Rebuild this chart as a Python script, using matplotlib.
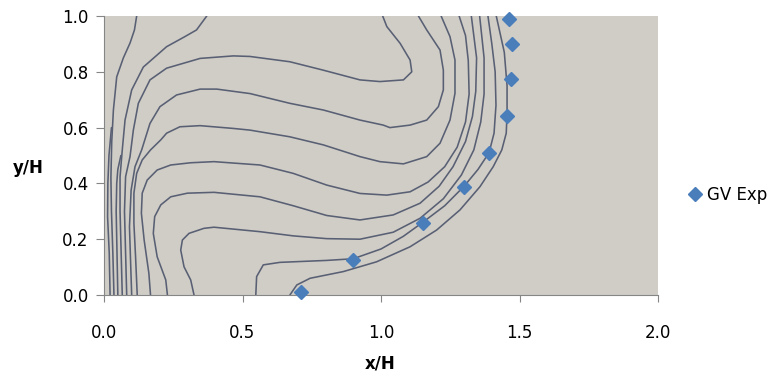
import matplotlib
matplotlib.use("Agg")
import matplotlib.pyplot as plt

plt.rcParams['font.family'] = ['DejaVu Sans']

# measured points (GV Exp)
gv_x = [0.71, 0.90, 1.15, 1.30, 1.39, 1.455, 1.47, 1.473, 1.462]
gv_y = [0.01, 0.125, 0.258, 0.388, 0.509, 0.642, 0.774, 0.90, 0.99]

# contour lines, (x/H, y/H)
line_x1 = [(0.022, 0.0), (0.019, 0.15), (0.013, 0.28), (0.014, 0.40), (0.018, 0.50), (0.027, 0.60)]
line_x2 = [(0.050, 0.0), (0.047, 0.15), (0.044, 0.30), (0.046, 0.40), (0.050, 0.45), (0.061, 0.50)]
line_a = [(0.036, 0.0), (0.032, 0.15), (0.027, 0.30), (0.025, 0.42), (0.028, 0.55), (0.034, 0.663),
          (0.046, 0.782), (0.070, 0.85), (0.094, 0.903), (0.110, 0.95), (0.118, 1.0)]
line_b = [(0.066, 0.0), (0.062, 0.15), (0.058, 0.30), (0.058, 0.424), (0.066, 0.52), (0.076, 0.627),
          (0.100, 0.735), (0.142, 0.817), (0.226, 0.89), (0.290, 0.925), (0.334, 0.95), (0.371, 1.0)]
line_c = [(0.082, 0.0), (0.078, 0.15), (0.074, 0.30), (0.078, 0.424), (0.094, 0.496), (0.106, 0.591),
          (0.124, 0.687), (0.166, 0.771), (0.226, 0.813), (0.347, 0.848), (0.467, 0.857), (0.527, 0.855),
          (0.671, 0.836), (0.791, 0.806), (0.924, 0.771), (0.996, 0.765), (1.081, 0.771), (1.111, 0.80),
          (1.105, 0.842), (1.069, 0.902), (1.021, 0.962), (1.006, 1.0)]
line_d = [(0.100, 0.0), (0.096, 0.12), (0.092, 0.245), (0.098, 0.376), (0.112, 0.46), (0.136, 0.52),
          (0.166, 0.615), (0.202, 0.675), (0.262, 0.717), (0.347, 0.738), (0.407, 0.738), (0.527, 0.722),
          (0.671, 0.687), (0.792, 0.663), (0.924, 0.627), (1.008, 0.609), (1.032, 0.600), (1.105, 0.609),
          (1.165, 0.627), (1.207, 0.675), (1.225, 0.735), (1.225, 0.806), (1.213, 0.878), (1.165, 0.95),
          (1.135, 1.0)]
line_e = [(0.120, 0.0), (0.114, 0.137), (0.108, 0.257), (0.108, 0.365), (0.118, 0.436), (0.138, 0.484),
          (0.168, 0.52), (0.205, 0.556), (0.226, 0.58), (0.274, 0.603), (0.347, 0.607), (0.467, 0.597),
          (0.527, 0.591), (0.671, 0.567), (0.792, 0.538), (0.924, 0.496), (0.996, 0.478), (1.081, 0.47),
          (1.165, 0.496), (1.213, 0.544), (1.249, 0.627), (1.267, 0.723), (1.267, 0.842), (1.249, 0.926),
          (1.217, 1.0)]
line_f = [(0.168, 0.0), (0.162, 0.078), (0.145, 0.197), (0.135, 0.293), (0.138, 0.365), (0.156, 0.412),
          (0.192, 0.448), (0.241, 0.466), (0.313, 0.474), (0.397, 0.478), (0.563, 0.466), (0.683, 0.436),
          (0.804, 0.394), (0.924, 0.364), (1.021, 0.358), (1.105, 0.37), (1.17, 0.405), (1.23, 0.46),
          (1.275, 0.53), (1.305, 0.62), (1.318, 0.72), (1.315, 0.84), (1.305, 0.93), (1.282, 1.0)]
line_g = [(0.229, 0.0), (0.223, 0.054), (0.192, 0.137), (0.178, 0.221), (0.183, 0.281), (0.205, 0.323),
          (0.241, 0.352), (0.301, 0.365), (0.397, 0.368), (0.563, 0.352), (0.683, 0.32), (0.804, 0.285),
          (0.924, 0.269), (1.044, 0.287), (1.141, 0.329), (1.21, 0.39), (1.26, 0.46), (1.305, 0.55),
          (1.33, 0.64), (1.342, 0.73), (1.345, 0.85), (1.326, 1.0)]
line_h = [(0.325, 0.0), (0.313, 0.054), (0.289, 0.101), (0.277, 0.161), (0.283, 0.197), (0.307, 0.221),
          (0.361, 0.239), (0.397, 0.243), (0.563, 0.227), (0.683, 0.212), (0.804, 0.202), (0.924, 0.2),
          (1.044, 0.225), (1.141, 0.275), (1.225, 0.345), (1.29, 0.43), (1.335, 0.52), (1.36, 0.62),
          (1.372, 0.72), (1.372, 0.85), (1.356, 1.0)]
line_i = [(0.548, 0.0), (0.551, 0.066), (0.575, 0.108), (0.635, 0.117), (0.683, 0.119), (0.804, 0.124),
          (0.90, 0.13), (1.0, 0.165), (1.08, 0.21), (1.15, 0.26), (1.23, 0.32), (1.30, 0.39), (1.35, 0.45),
          (1.39, 0.51), (1.408, 0.58), (1.415, 0.68), (1.412, 0.80), (1.40, 0.90), (1.386, 1.0)]
line_j = [(0.671, 0.0), (0.696, 0.036), (0.744, 0.06), (0.864, 0.084), (0.984, 0.119), (1.105, 0.173),
          (1.201, 0.233), (1.285, 0.305), (1.357, 0.388), (1.405, 0.46), (1.436, 0.52), (1.452, 0.58),
          (1.455, 0.65), (1.455, 0.75), (1.445, 0.87), (1.416, 1.0)]

contours = [line_x1, line_x2, line_a, line_b, line_c, line_d, line_e,
            line_f, line_g, line_h, line_i, line_j]

fig = plt.figure(figsize=(7.76, 3.81), dpi=100)
ax = fig.add_axes([0.134, 0.2257, 0.714, 0.7323])
ax.set_facecolor('#d0cdc7')

for pts in contours:
    xs = [p[0] for p in pts]
    ys = [p[1] for p in pts]
    ax.plot(xs, ys, color='#596074', linewidth=1.15, solid_capstyle='round')

ax.plot(gv_x, gv_y, linestyle='none', marker='D', markersize=7.5,
        color='#4a7ebb', label='GV Exp', zorder=5, clip_on=False)

ax.set_xlim(0, 2.0)
ax.set_ylim(0, 1.0)
ax.set_xticks([0.0, 0.5, 1.0, 1.5, 2.0])
ax.set_yticks([0.0, 0.2, 0.4, 0.6, 0.8, 1.0])
ax.set_xticklabels(['0.0', '0.5', '1.0', '1.5', '2.0'])
ax.set_yticklabels(['0.0', '0.2', '0.4', '0.6', '0.8', '1.0'])
ax.tick_params(axis='y', length=6, width=0.8, color='#868686', pad=5, labelsize=12)
ax.tick_params(axis='x', length=5, width=0.8, color='#868686', pad=16, labelsize=12)

for side in ['top', 'right']:
    ax.spines[side].set_visible(False)
for side in ['left', 'bottom']:
    ax.spines[side].set_color('#868686')
    ax.spines[side].set_linewidth(0.8)

fig.text(0.037, 0.56, 'y/H', fontsize=12, fontweight='bold', ha='center', va='center')
fig.text(0.49, 0.047, 'x/H', fontsize=12, fontweight='bold', ha='center', va='center')

ax.legend(loc='center left', bbox_to_anchor=(1.04, 0.36), frameon=False,
          fontsize=12, handletextpad=0.2, handlelength=1.0, borderaxespad=0)

fig.savefig('out.png', dpi=100)
